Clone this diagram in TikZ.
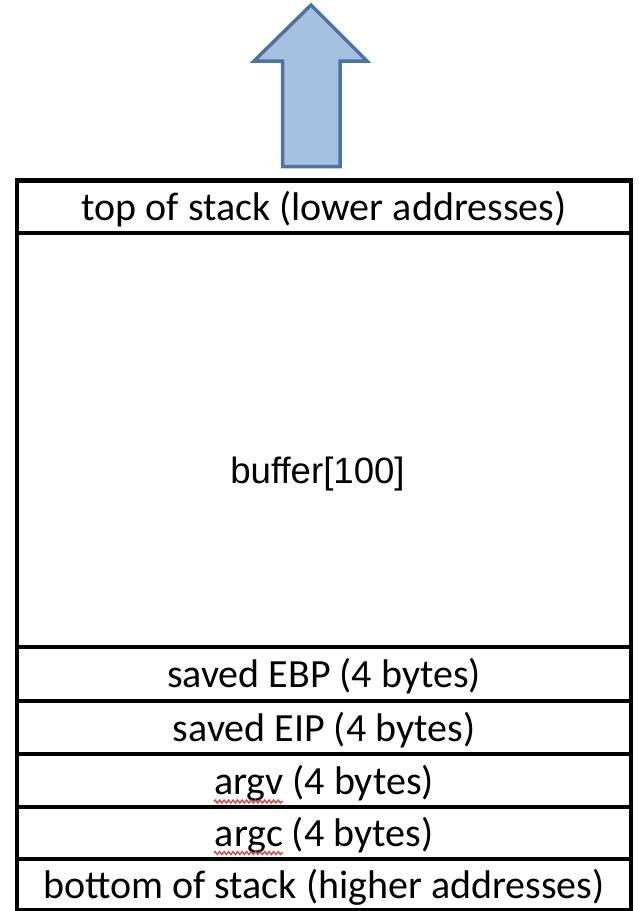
\documentclass[tikz,border=0pt]{standalone}
\usepackage{fontspec}
\setmainfont{Carlito}
\newfontfamily\arialfont[Ligatures={NoCommon,NoRare}]{Liberation Sans}
\usetikzlibrary{decorations.pathmorphing}
\definecolor{arrowfill}{HTML}{A6C0E1}
\definecolor{arrowline}{HTML}{4D73A0}
\definecolor{spellred}{HTML}{E03C3C}
\begin{document}
\begin{tikzpicture}[x=1pt,y=-1pt,
  cell/.style={draw=black,line width=4.2pt},
  lbl/.style={anchor=base,inner sep=0pt,font=\fontsize{40}{48}\selectfont},
  buflbl/.style={anchor=base,inner sep=0pt,font=\fontsize{36.6}{44}\arialfont},
  spell/.style={draw=spellred,line width=1.3pt,decorate,decoration={zigzag,amplitude=1.5pt,segment length=4.5pt}},
  uparrow/.style={fill=arrowfill,draw=arrowline,line width=3.5pt,line join=miter}]
\useasboundingbox (0,0) rectangle (638,911);
% arrow
\draw[uparrow] (282.7,166.7) -- (282.7,61) -- (254,61) -- (311,5) -- (367,61) -- (340,61) -- (340,166.7) -- cycle;
% stack frame
\draw[cell] (17,180.5) rectangle (631,910);
\foreach \yy in {233,647,701,754,807,859}
  \draw[cell] (17,\yy) -- (631,\yy);
% labels
\node[lbl] (top) at (324,220) {top of stack (lower addresses)};
\node[buflbl] (buf) at (317.5,483) {buffer[100]};
\node[lbl] (ebp) at (324,687.5) {saved EBP (4 bytes)};
\node[lbl] (eip) at (324,741) {saved EIP (4 bytes)};
\node[lbl] (argv) at (324,794) {argv (4 bytes)};
\node[lbl] (argc) at (324,846.5) {argc (4 bytes)};
\node[lbl] (bot) at (324,898) {bottom of stack (higher addresses)};
% spell-check underlines
\coordinate (sv1) at (214,801.5);
\coordinate (sv2) at (283,801.5);
\coordinate (sc1) at (214,853);
\coordinate (sc2) at (283,853);
\draw[spell] (sv1) -- (sv2);
\draw[spell] (sc1) -- (sc2);
\end{tikzpicture}
\end{document}
